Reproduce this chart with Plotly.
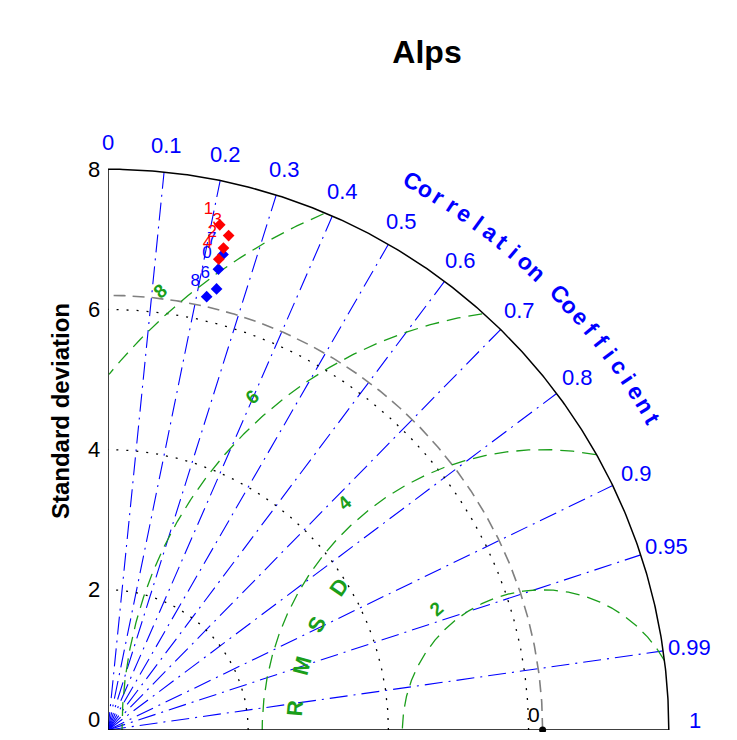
import numpy as np
import plotly.graph_objects as go

# ---------------- data ----------------
title = "Alps"
ref_std = 6.2
std_max = 8.0
std_ticks = [0, 2, 4, 6, 8]
std_circles = [2, 4, 6]
rms_levels = [2, 4, 6, 8]
corr_lines = [0.1, 0.2, 0.3, 0.4, 0.5, 0.6, 0.7, 0.8, 0.9, 0.95, 0.99]
corr_label_vals = [0.0, 0.1, 0.2, 0.3, 0.4, 0.5, 0.6, 0.7, 0.8, 0.9, 0.95, 0.99, 1.0]
corr_label_txt = ["0", "0.1", "0.2", "0.3", "0.4", "0.5", "0.6", "0.7", "0.8", "0.9", "0.95", "0.99", "1"]

red_std = [7.38, 7.26, 7.07, 6.90]
red_corr = [0.216, 0.237, 0.233, 0.229]
red_lbl = ["1", "3", "2", "4"]

blue_std = [6.98, 6.76, 6.48, 6.34]
blue_corr = [0.235, 0.233, 0.239, 0.222]
blue_lbl = ["7", "0", "6", "8"]

# ---------------- styling / layout ----------------
OFF = 8            # page body margin
W, H = 737 - 2 * OFF, 740 - 2 * OFF
PX = 70.1          # pixels per std unit
ML, MB = 108 - OFF, H - (730 - OFF)
PW, PH = 617, 673
MR, MT = W - ML - PW, H - MB - PH
xr = PW / PX
yr = PH / PX
FONT = "Liberation Sans, Arial, sans-serif"
BLUE = "#0000ff"
GREEN = "#1a9e1a"

fig = go.Figure()


def add_line(xs, ys, color, dash, width=1.2):
    fig.add_trace(go.Scatter(x=xs, y=ys, mode="lines", hoverinfo="skip",
                             line=dict(color=color, dash=dash, width=width),
                             showlegend=False, connectgaps=False, cliponaxis=False))


th = np.linspace(0, np.pi / 2, 300)

# correlation rays
for c in corr_lines:
    a = np.arccos(c)
    add_line([0, std_max * np.cos(a)], [0, std_max * np.sin(a)], BLUE, "18px,6px,2px,6px", 1.1)

# std dotted circles
for r in std_circles:
    add_line(r * np.cos(th), r * np.sin(th), "black", "2px,8px", 1.3)

# reference std circle (gray dashed)
add_line(ref_std * np.cos(th), ref_std * np.sin(th), "#808080", "12px,7px", 1.6)

# RMSD circles (green dashed), clipped to the quadrant of radius std_max
ph = np.linspace(0, np.pi, 600)
for r in rms_levels:
    xs = ref_std + r * np.cos(ph)
    ys = r * np.sin(ph)
    ok = (xs >= 0) & (np.hypot(xs, ys) <= std_max)
    xs_l = [float(x) if k else None for x, k in zip(xs, ok)]
    ys_l = [float(y) if k else None for y, k in zip(ys, ok)]
    add_line(xs_l, ys_l, GREEN, "14px,8px", 1.3)

# outer arc and axes
add_line(std_max * np.cos(th), std_max * np.sin(th), "black", "solid", 1.5)
add_line([0, std_max], [0, 0], "black", "solid", 1.5)
add_line([0, 0], [0, std_max], "black", "solid", 1.5)

# reference point
fig.add_trace(go.Scatter(x=[ref_std], y=[0], mode="markers", hoverinfo="skip",
                         marker=dict(color="black", size=7), showlegend=False, cliponaxis=False))
fig.add_annotation(x=ref_std - 0.12, y=0.22, text="0", showarrow=False,
                   font=dict(family=FONT, size=21, color="black"))

# model points
def add_pts(stds, corrs, lbls, color):
    a = np.arccos(np.array(corrs))
    s = np.array(stds)
    fig.add_trace(go.Scatter(x=s * np.cos(a), y=s * np.sin(a), mode="markers+text",
                             text=lbls, textposition="top left",
                             textfont=dict(family=FONT, size=17, color=color),
                             marker=dict(symbol="diamond", color=color, size=9),
                             hoverinfo="skip", showlegend=False, cliponaxis=False))

add_pts(blue_std, blue_corr, blue_lbl, BLUE)
add_pts(red_std, red_corr, red_lbl, "red")

# std tick labels
for v in std_ticks:
    fig.add_annotation(xref="paper", x=0, y=v, text=str(v), showarrow=False,
                       xanchor="right", yanchor="middle", xshift=-6,
                       yshift=11 if v == 0 else 0,
                       font=dict(family=FONT, size=22, color="black"))

# correlation tick labels
for v, t in zip(corr_label_vals, corr_label_txt):
    a = np.arccos(v)
    fig.add_annotation(x=8.38 * np.cos(a), y=8.38 * np.sin(a), text=t, showarrow=False,
                       yshift=10 if v == 1.0 else 0,
                       font=dict(family=FONT, size=22, color=BLUE))

# "Correlation Coefficient" curved label
lab = "Correlation Coefficient"
for i, ch in enumerate(lab):
    if ch == " ":
        continue
    ang = 61.0 - 1.42 * i
    ar = np.radians(ang)
    fig.add_annotation(x=8.95 * np.cos(ar), y=8.95 * np.sin(ar), text="<b>%s</b>" % ch,
                       showarrow=False, textangle=90 - ang,
                       font=dict(family=FONT, size=23, color=BLUE))

# RMSD level labels
for r in rms_levels:
    ar = np.radians(131)
    fig.add_annotation(x=ref_std + (r + 0.3) * np.cos(ar), y=(r + 0.3) * np.sin(ar),
                       text="<b>%d</b>" % r, showarrow=False, textangle=-41,
                       font=dict(family=FONT, size=19, color=GREEN))

# "RMSD" along circle
for ch, ang in zip("RMSD", [175, 165, 155, 145]):
    ar = np.radians(ang)
    fig.add_annotation(x=ref_std + 3.55 * np.cos(ar), y=3.55 * np.sin(ar),
                       text="<b>%s</b>" % ch, showarrow=False, textangle=-(ang - 90),
                       font=dict(family=FONT, size=22, color=GREEN))

# y axis title
fig.add_annotation(xref="paper", yref="paper", x=(60 - 108) / PW, y=4.55 / yr,
                   xanchor="center", yanchor="middle",
                   text="<b>Standard deviation</b>", showarrow=False,
                   textangle=-90, font=dict(family=FONT, size=24, color="black"))

fig.update_layout(
    width=W, height=H,
    margin=dict(l=ML, r=MR, t=MT, b=MB, pad=0, autoexpand=False),
    paper_bgcolor="white", plot_bgcolor="white",
    title=dict(text="<b>%s</b>" % title, x=(427 - OFF) / W, y=1 - (52 - OFF) / H, xref="container",
               yref="container", xanchor="center", yanchor="middle",
               font=dict(family=FONT, size=32, color="black")),
    xaxis=dict(range=[0, xr], visible=False, fixedrange=True),
    yaxis=dict(range=[0, yr], showticklabels=False, showgrid=False, zeroline=False,
               showline=False, ticks="", automargin=False, fixedrange=True),
    showlegend=False,
)

fig.write_html("out.html")
